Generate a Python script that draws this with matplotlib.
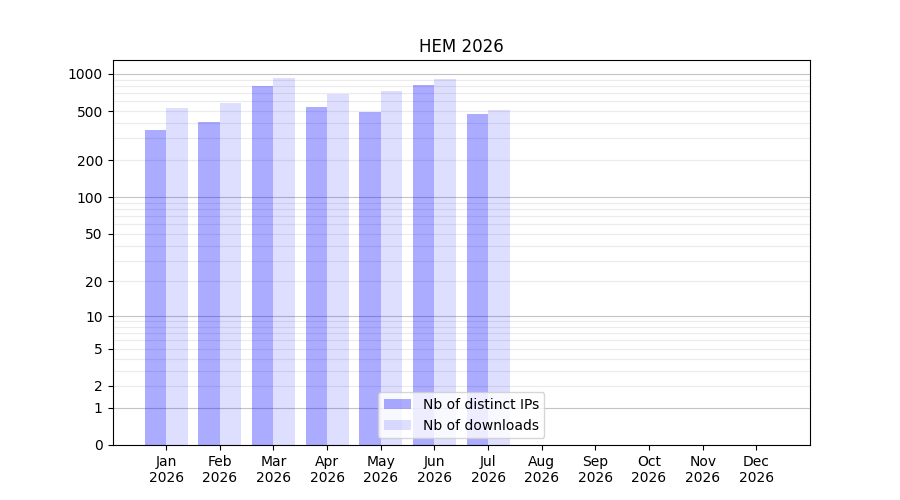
import numpy as np
import matplotlib
matplotlib.use("Agg")
import matplotlib.pyplot as plt

months = ["Jan", "Feb", "Mar", "Apr", "May", "Jun",
          "Jul", "Aug", "Sep", "Oct", "Nov", "Dec"]
year = "2026"
distinct_ips = [351, 408, 798, 540, 491, 813, 473]
downloads = [529, 581, 926, 688, 727, 909, 510]

ytick_vals = [0, 1, 2, 5, 10, 20, 50, 100, 200, 500, 1000]


def fwd(y):
    return np.log10(1 + np.maximum(y, 0))


def inv(y):
    return 10 ** y - 1


def main():
    fig, ax = plt.subplots(figsize=(9, 5), dpi=100)

    x = np.arange(len(distinct_ips))
    width = 0.4
    ax.bar(x, distinct_ips, width=-width, align="edge", color="blue",
           alpha=0.33, label="Nb of distinct IPs", zorder=2)
    ax.bar(x, downloads, width=width, align="edge", color="blue",
           alpha=0.13, label="Nb of downloads", zorder=2)

    ax.set_yscale("function", functions=(fwd, inv))
    ax.set_ylim(0, max(downloads) * 1.4)
    ax.set_yticks(ytick_vals)
    ax.set_yticklabels([str(v) for v in ytick_vals])
    minor = [m * 10 ** d for d in range(0, 3) for m in range(2, 10)
             if m * 10 ** d not in ytick_vals]
    ax.set_yticks(minor, minor=True)
    ax.tick_params(axis="y", which="minor", length=0)

    ax.grid(axis="y", which="both", color="#ebebeb", linewidth=0.8, zorder=0)
    ax.set_axisbelow(True)
    for val, line in zip(ytick_vals, ax.get_ygridlines()):
        if val in (1, 10, 100, 1000):
            line.set_color("#c4c4c4")

    ax.set_xticks(np.arange(len(months)))
    ax.set_xticklabels([m + "\n" + year for m in months])
    ax.set_xlim(-1, 12)

    ax.set_title("HEM " + year)
    ax.legend(loc="lower center")

    fig.savefig("out.png")


main()
